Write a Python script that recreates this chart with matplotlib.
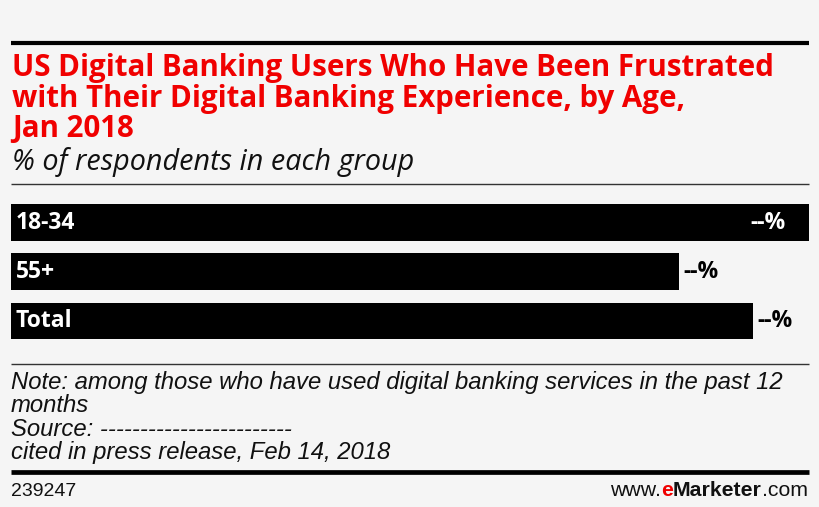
import matplotlib
matplotlib.use("Agg")
import matplotlib.pyplot as plt
from matplotlib import font_manager
from matplotlib.lines import Line2D

categories = ["18-34", "55+", "Total"]
values = [43, 36, 40]
value_labels = ["--%", "--%", "--%"]

title_lines = [
    "US Digital Banking Users Who Have Been Frustrated",
    "with Their Digital Banking Experience, by Age,",
    "Jan 2018",
]
subtitle = "% of respondents in each group"
note_lines = [
    "Note: among those who have used digital banking services in the past 12",
    "months",
    "Source: ------------------------",
    "cited in press release, Feb 14, 2018",
]
chart_id = "239247"

W, H = 820, 507
BG = "#f5f5f5"
RED = "#f00000"

names = {f.name for f in font_manager.fontManager.ttflist}
narrow = "Liberation Sans Narrow" if "Liberation Sans Narrow" in names else "Liberation Sans"
main = "Open Sans" if "Open Sans" in names else "DejaVu Sans"

fig = plt.figure(figsize=(W / 100, H / 100), dpi=100, facecolor=BG)
renderer = fig.canvas.get_renderer()


def fx(x):
    return x / W


def fy(y):
    return 1 - y / H


def hline(y, x0, x1, lw, color):
    fig.add_artist(Line2D([fx(x0), fx(x1)], [fy(y), fy(y)], transform=fig.transFigure,
                          lw=lw, color=color, solid_capstyle="butt"))


def fit_text(x, y, s, target_w, **kw):
    t = fig.text(fx(x), fy(y), s, va="baseline", ha="left", **kw)
    w = t.get_window_extent(renderer=renderer).width
    t.set_fontsize(t.get_fontsize() * target_w / w)
    return t


# rules
hline(43, 11, 809, 3.0, "#000000")
hline(184, 11, 809, 1.0, "#333333")
hline(364, 11, 809, 1.0, "#333333")
hline(472, 11, 809, 3.4, "#000000")

# title
t0 = fit_text(12, 76, title_lines[0], 764, color=RED, fontsize=20, fontweight="bold", family=main)
tfs = t0.get_fontsize()
for i, line in enumerate(title_lines[1:], start=1):
    fig.text(fx(12), fy(76 + i * 30.5), line, color=RED, fontsize=tfs, fontweight="bold",
             family=main, va="baseline", ha="left")
fit_text(12, 170, subtitle, 403, color="#111111", fontsize=19, fontstyle="italic", family=main)

# bars
top, bottom = 222.5 - 24.6, 321 + 24.6
ax = fig.add_axes([fx(11), fy(bottom), fx(809) - fx(11), (bottom - top) / H])
ax.set_facecolor("none")
ypos = list(range(len(categories)))
ax.barh(ypos, values, height=0.75, color="#000000", edgecolor="none")
ax.set_xlim(0, max(values))
ax.set_ylim(len(categories) - 0.5, -0.5)
ax.axis("off")

for i, (cat, v, lab) in enumerate(zip(categories, values, value_labels)):
    ax.annotate(cat, (0, i), xytext=(5, 0), textcoords="offset pixels", color="white",
                fontsize=16.5, fontweight="bold", family=main, va="center", ha="left")
    if v >= max(values) * 0.97:
        ax.annotate(lab, (v, i), xytext=(-23, 0), textcoords="offset pixels", color="white",
                    fontsize=16.5, fontweight="bold", family=main, va="center", ha="right")
    else:
        ax.annotate(lab, (v, i), xytext=(4, 0), textcoords="offset pixels", color="black",
                    fontsize=16.5, fontweight="bold", family=main, va="center", ha="left")

# notes
n0 = fit_text(11, 389, note_lines[0], 774, color="#111111", fontsize=16,
              fontstyle="italic", family=narrow)
nfs = n0.get_fontsize()
for i, line in enumerate(note_lines[1:], start=1):
    fig.text(fx(11), fy(389 + i * 23.5), line, color="#111111", fontsize=nfs,
             fontstyle="italic", family=narrow, va="baseline", ha="left")

fig.text(fx(11), fy(496), chart_id, color="#111111", fontsize=14, family=narrow,
         va="baseline", ha="left")

# www.eMarketer.com composed right-to-left
pieces = [("www.", "normal", "#111111"), ("e", "bold", RED), ("Marketer", "bold", "#111111"),
          (".com", "normal", "#111111")]
xr = 808
for txt, wt, col in reversed(pieces):
    t = fig.text(fx(xr), fy(496), txt, color=col, fontsize=15.3, fontweight=wt,
                 family="Liberation Sans", va="baseline", ha="right")
    bb = t.get_window_extent(renderer=renderer)
    xr -= bb.width

fig.savefig("out.png", dpi=100, facecolor=BG)
